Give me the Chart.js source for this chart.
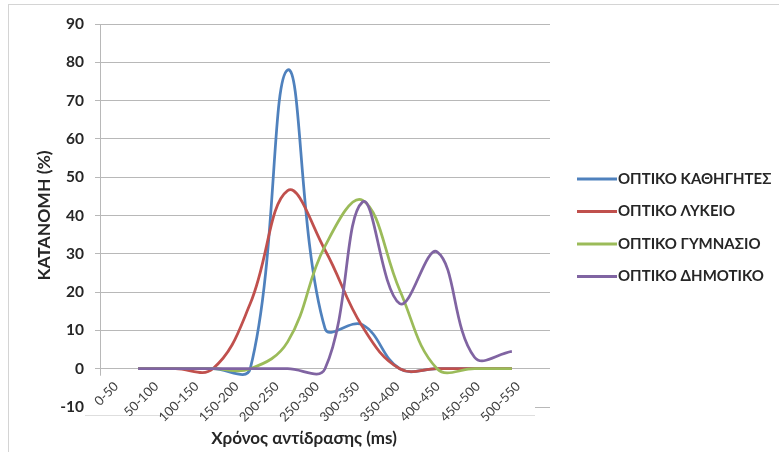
<!DOCTYPE html>
<html>
<head>
<meta charset="utf-8">
<script src="https://cdn.jsdelivr.net/npm/chart.js@4.4.1/dist/chart.umd.min.js"></script>
<style>
  html, body { margin: 0; padding: 0; background: #fff; }
  canvas { display: block; }
</style>
</head>
<body>
<canvas id="c" width="779" height="452"></canvas>
<script>
// Reaction-time distribution per group (% of subjects in each 50 ms bin)
const categories = ['0-50', '50-100', '100-150', '150-200', '200-250', '250-300',
                    '300-350', '350-400', '400-450', '450-500', '500-550'];
const kathigites = [0, 0, 0, 0, 78, 10.5, 11.5, 0, 0, 0, 0];
const lykeio     = [0, 0, 0, 17, 46.5, 31, 11, 0, 0, 0, 0];
const gymnasio   = [0, 0, 0, 0, 7, 32, 44, 20.5, 0, 0, 0];
const dimotiko   = [0, 0, 0, 0, 0, 0, 43.5, 17, 30.5, 3, 4.5];
const seriesNames = ['ΟΠΤΙΚΟ ΚΑΘΗΓΗΤΕΣ', 'ΟΠΤΙΚΟ ΛΥΚΕΙΟ', 'ΟΠΤΙΚΟ ΓΥΜΝΑΣΙΟ', 'ΟΠΤΙΚΟ ΔΗΜΟΤΙΚΟ'];
const yMin = -10, yMax = 90, yStep = 10;
const yTitle = 'ΚΑΤΑΝΟΜΗ (%)';
const xTitle = 'Χρόνος αντίδρασης (ms)';

const palette = ['#4F81BD', '#C0504D', '#9BBB59', '#8064A2'];
const FONT = "Lato, 'Open Sans', sans-serif";
const TEXT = '#262626';
const GRID = '#b8b8b8';

const seriesValues = [kathigites, lykeio, gymnasio, dimotiko];
const datasets = seriesValues.map((vals, i) => ({
  label: seriesNames[i],
  data: vals.map((v, k) => ({ x: k, y: v })),
  borderColor: palette[i],
  backgroundColor: palette[i],
  borderWidth: 2.75,
  pointRadius: 0,
  tension: 0.4,
  fill: false,
  xAxisID: 'x',
  yAxisID: 'y',
  order: seriesValues.length - i   // later series sit on top
}));

// white page + outer frame
const frame = {
  id: 'frame',
  beforeDraw(chart) {
    const { ctx, width, height } = chart;
    ctx.save();
    ctx.fillStyle = '#fff';
    ctx.fillRect(0, 0, width, height);
    ctx.strokeStyle = '#d4d4d4';
    ctx.lineWidth = 1;
    ctx.strokeRect(8.5, 4.5, width - 4, height + 10);
    ctx.restore();
  }
};

// band under the zero line that holds the category labels
const labelBand = {
  id: 'labelBand',
  beforeDatasetsDraw(chart) {
    const { ctx, chartArea, scales } = chart;
    const top = scales.y.getPixelForValue(0) + 7;
    const bottom = chartArea.bottom + 8;
    const left = chartArea.left - 15;
    const right = chartArea.right - 15;
    ctx.save();
    ctx.fillStyle = '#fff';
    ctx.fillRect(left, top, right - left, bottom - top);
    ctx.strokeStyle = '#dedede';
    ctx.lineWidth = 1;
    ctx.beginPath();
    ctx.moveTo(left, Math.round(bottom) + 0.5);
    ctx.lineTo(right, Math.round(bottom) + 0.5);
    ctx.stroke();
    ctx.restore();
  }
};

// legend to the right of the plot and the horizontal axis title
const sideLegend = {
  id: 'sideLegend',
  afterDraw(chart) {
    const { ctx, chartArea } = chart;
    const x0 = chartArea.right + 27;
    ctx.save();
    ctx.textBaseline = 'middle';
    ctx.textAlign = 'left';
    ctx.font = `bold 15px ${FONT}`;
    chart.data.datasets.forEach((ds, i) => {
      const y = 179 + i * 32.5;
      ctx.strokeStyle = ds.borderColor;
      ctx.lineWidth = 3;
      ctx.beginPath();
      ctx.moveTo(x0, y);
      ctx.lineTo(x0 + 40, y);
      ctx.stroke();
      ctx.fillStyle = TEXT;
      ctx.fillText(ds.label, x0 + 41, y);
    });
    ctx.font = `bold 17px ${FONT}`;
    ctx.textAlign = 'center';
    ctx.fillText(xTitle, chartArea.left + 204, 439);
    ctx.restore();
  }
};

new Chart(document.getElementById('c'), {
  type: 'line',
  data: { datasets },
  plugins: [frame, labelBand, sideLegend],
  options: {
    responsive: false,
    animation: false,
    devicePixelRatio: 1,
    layout: { padding: { left: 0, right: 229, top: 24, bottom: 45 } },
    plugins: {
      legend: { display: false },
      tooltip: { enabled: false },
      title: { display: false }
    },
    scales: {
      x: {
        type: 'linear',
        display: false,
        min: -1.02,
        max: 11.02
      },
      xl: {
        type: 'linear',
        position: { y: 0 },
        min: -0.4,
        max: 10.79,
        grid: { display: false, drawTicks: false },
        border: { display: false },
        ticks: {
          z: 1,
          stepSize: 1,
          includeBounds: false,
          autoSkip: false,
          minRotation: 45,
          maxRotation: 45,
          padding: 10,
          color: '#404040',
          font: { family: FONT, size: 13 },
          callback: (v) => categories[v]
        }
      },
      y: {
        type: 'linear',
        position: 'left',
        min: yMin,
        max: yMax,
        afterFit: (s) => { s.width = 100; },
        grid: { color: GRID, lineWidth: 1, tickLength: 5, tickColor: GRID },
        border: { display: true, color: GRID, width: 1 },
        ticks: {
          stepSize: yStep,
          padding: 11,
          color: TEXT,
          font: { family: FONT, size: 15.5, weight: 'bold' }
        },
        title: {
          display: true,
          text: yTitle,
          color: TEXT,
          padding: { top: 33.5, bottom: 0 },
          font: { family: FONT, size: 17.5, weight: 'bold' }
        }
      }
    }
  }
});
</script>
</body>
</html>
